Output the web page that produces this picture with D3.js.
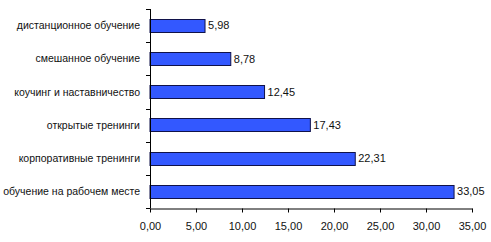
<!DOCTYPE html>
<meta charset="utf-8">
<style>
body { margin: 0; background: #fff; }
text { font-family: "Liberation Sans", Arial, sans-serif; font-size: 11px; fill: #111; }
</style>
<svg width="491" height="242"></svg>
<script src="https://d3js.org/d3.v7.min.js"></script>
<script>

var categories = [
  "дистанционное обучение",
  "смешанное обучение",
  "коучинг и наставничество",
  "открытые тренинги",
  "корпоративные тренинги",
  "обучение на рабочем месте"
];
var values = [5.98, 8.78, 12.45, 17.43, 22.31, 33.05];
var ticks = [0, 5, 10, 15, 20, 25, 30, 35];

var locale = d3.formatLocale({decimal: ",", thousands: " ", grouping: [3], currency: ["", ""]}),
    fmt = locale.format(".2f");

var svg = d3.select("svg");

var x = d3.scaleLinear().domain([0, 35]).range([150, 472]);
var y = d3.scaleBand().domain(categories).range([9, 208]).paddingInner(0.6).paddingOuter(0.3);

// bars
svg.selectAll("rect")
  .data(values)
  .enter().append("rect")
    .attr("x", x(0))
    .attr("y", function(d, i) { return Math.round(y(categories[i])) + 0.5; })
    .attr("width", function(d) { return x(d) - x(0); })
    .attr("height", Math.round(y.bandwidth()))
    .attr("fill", "#3358ff")
    .attr("stroke", "#10124a")
    .attr("stroke-width", 1);

// value labels
svg.selectAll(".val")
  .data(values)
  .enter().append("text")
    .attr("class", "val")
    .attr("x", function(d) { return x(d) + 3; })
    .attr("y", function(d, i) { return y(categories[i]) + y.bandwidth() / 2; })
    .attr("dy", "0.35em")
    .text(fmt);

// y axis: line with ticks between categories
var yAxis = svg.append("g");
yAxis.append("line")
  .attr("x1", 150.5).attr("x2", 150.5)
  .attr("y1", 9).attr("y2", 208)
  .attr("stroke", "#000");
var step = (208 - 9) / categories.length;
yAxis.selectAll(".yt")
  .data(d3.range(categories.length + 1))
  .enter().append("line")
    .attr("x1", 146).attr("x2", 150.5)
    .attr("y1", function(i) { return Math.round(9 + i * step) + 0.5; })
    .attr("y2", function(i) { return Math.round(9 + i * step) + 0.5; })
    .attr("stroke", "#000");
yAxis.selectAll(".cat")
  .data(categories)
  .enter().append("text")
    .attr("x", 140)
    .attr("y", function(d) { return y(d) + y.bandwidth() / 2; })
    .attr("dy", "0.35em")
    .attr("text-anchor", "end")
    .style("font-size", "10.5px")
    .text(function(d) { return d; });

// x axis
var xAxis = svg.append("g")
  .attr("transform", "translate(0,208.5)")
  .call(d3.axisBottom(x).tickValues(ticks).tickFormat(fmt).tickSize(4).tickSizeOuter(0).tickPadding(10));
xAxis.select(".domain").attr("stroke", "#000");
xAxis.selectAll(".tick line").attr("stroke", "#000");
xAxis.selectAll("text").attr("fill", "#111").style("font-size", "11px").attr("font-family", null);

</script>
